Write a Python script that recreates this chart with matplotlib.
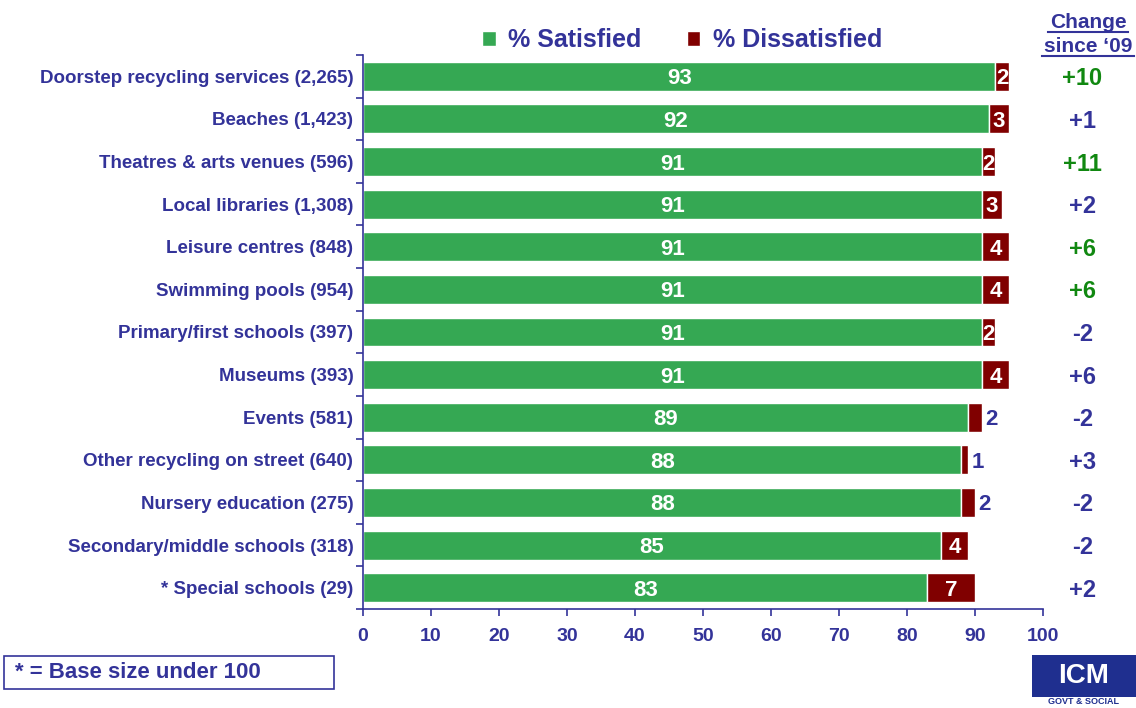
import matplotlib
matplotlib.use("Agg")
import matplotlib.pyplot as plt
from matplotlib.patches import Rectangle
from matplotlib.lines import Line2D
import numpy as np

categories = [
    "Doorstep recycling services (2,265)",
    "Beaches (1,423)",
    "Theatres & arts venues (596)",
    "Local libraries (1,308)",
    "Leisure centres (848)",
    "Swimming pools (954)",
    "Primary/first schools (397)",
    "Museums (393)",
    "Events (581)",
    "Other recycling on street (640)",
    "Nursery education (275)",
    "Secondary/middle schools (318)",
    "* Special schools (29)",
]
satisfied = [93, 92, 91, 91, 91, 91, 91, 91, 89, 88, 88, 85, 83]
dissatisfied = [2, 3, 2, 3, 4, 4, 2, 4, 2, 1, 2, 4, 7]
dissat_inside = [True, True, True, True, True, True, True, True, False, False, False, True, True]
change = ["+10", "+1", "+11", "+2", "+6", "+6", "-2", "+6", "-2", "+3", "-2", "-2", "+2"]
change_highlight = [True, False, True, False, True, True, False, False, False, False, False, False, False]
xticks = list(range(0, 101, 10))

NAVY = "#333399"
GREEN = "#35A853"
RED = "#800000"
GREEN_TXT = "#118811"

plt.rcParams['font.family'] = ['Liberation Sans', 'DejaVu Sans']
plt.rcParams['font.weight'] = 'bold'

fig = plt.figure(figsize=(11.36, 7.08), dpi=100)
ax = fig.add_axes([363/1136, 1 - 609/708, (1043-363)/1136, (609-55)/708])

n = len(categories)
y = np.arange(n)
h = 0.68
b1 = ax.barh(y, satisfied, height=h, color=GREEN, edgecolor='white', linewidth=1, label='% Satisfied')
b2 = ax.barh(y, dissatisfied, left=satisfied, height=h, color=RED, edgecolor='white', linewidth=1, label='% Dissatisfied')

ax.set_ylim(n - 0.5, -0.5)
ax.set_xlim(0, 100)

for i in range(n):
    ax.text(satisfied[i] / 2, y[i], str(satisfied[i]), ha='center', va='center_baseline',
            color='white', fontsize=16, fontweight='bold')
    if dissat_inside[i]:
        ax.text(satisfied[i] + dissatisfied[i] / 2, y[i], str(dissatisfied[i]), ha='center', va='center_baseline',
                color='white', fontsize=16, fontweight='bold')
    else:
        ax.text(satisfied[i] + dissatisfied[i] + 0.5, y[i], str(dissatisfied[i]), ha='left', va='center_baseline',
                color=NAVY, fontsize=16, fontweight='bold')
    ax.text(105.8, y[i], change[i], ha='center', va='center_baseline', fontsize=17, fontweight='bold',
            color=GREEN_TXT if change_highlight[i] else NAVY, clip_on=False)

ax.set_yticks(y)
ax.set_yticklabels(categories, fontsize=13.5, fontweight='bold', color=NAVY)
ax.set_yticks(np.arange(-0.5, n, 1), minor=True)
ax.tick_params(axis='y', which='major', length=0, pad=7)
ax.tick_params(axis='y', which='minor', length=5, color=NAVY, width=1.2, direction='out')
ax.set_xticks(xticks)
ax.set_xticklabels([str(t) for t in xticks], fontsize=14, fontweight='bold', color=NAVY)
ax.tick_params(axis='x', length=5, color=NAVY, width=1.2, direction='out', pad=9)

for s in ['top', 'right']:
    ax.spines[s].set_visible(False)
for s in ['left', 'bottom']:
    ax.spines[s].set_color(NAVY)
    ax.spines[s].set_linewidth(1.2)

leg = fig.legend(handles=[b1, b2], loc='center', bbox_to_anchor=(682/1136, 1 - 40/708), ncol=2,
                 frameon=False, fontsize=18, handlelength=0.55, handleheight=0.55,
                 columnspacing=1.8, handletextpad=0.5)
for t in leg.get_texts():
    t.set_color(NAVY)
    t.set_fontweight('bold')

# Change header with underline
fig.text(1088/1136, 1 - 20/708, "Change", ha='center', va='center_baseline', fontsize=15, fontweight='bold', color=NAVY)
fig.text(1088/1136, 1 - 44/708, "since \u201809", ha='center', va='center_baseline', fontsize=15, fontweight='bold', color=NAVY)
fig.add_artist(Line2D([1048/1136, 1128/1136], [1 - 32/708, 1 - 32/708], color=NAVY, lw=1.5))
fig.add_artist(Line2D([1042/1136, 1134/1136], [1 - 56/708, 1 - 56/708], color=NAVY, lw=1.5))

# Footnote box
fig.add_artist(Rectangle((4/1136, 1 - 689/708), 330/1136, 33/708, fill=False, edgecolor=NAVY, lw=1.2))
fig.text(15/1136, 1 - 672/708, "* = Base size under 100", ha='left', va='center', fontsize=16,
         fontweight='bold', color=NAVY)

# ICM logo
fig.add_artist(Rectangle((1032/1136, 1 - 697/708), 104/1136, 42/708, color="#1F2F8F", lw=0))
fig.text(1084/1136, 1 - 676/708, "ICM", ha='center', va='center', fontsize=20, fontweight='bold', color='white')
fig.text(1084/1136, 1 - 702/708, "GOVT & SOCIAL", ha='center', va='center', fontsize=6.5, fontweight='bold', color='#1F2F8F')

fig.savefig("out.png", dpi=100)
